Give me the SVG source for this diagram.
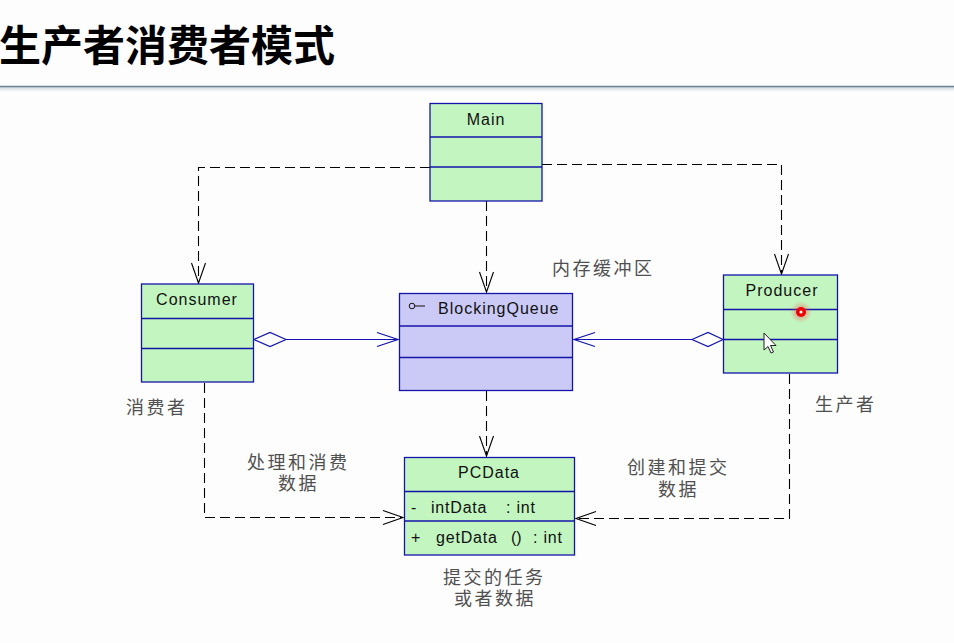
<svg xmlns="http://www.w3.org/2000/svg" width="954" height="643" viewBox="0 0 954 643">
<defs>
<style>
.box{stroke:#1414a8;stroke-width:1.3}
.g{fill:#c2f5c0}
.p{fill:#cbcaf6}
.div{stroke:#1414a8;stroke-width:1.3}
.nm{font-family:"Liberation Sans",Arial,sans-serif;font-size:16px;letter-spacing:1px;fill:#111}
.mb{font-family:"Liberation Sans",Arial,sans-serif;font-size:16px;fill:#111}
.lbl{font-family:"Liberation Sans","Noto Sans CJK SC",sans-serif;font-size:18px;letter-spacing:2.5px;fill:#505050}
.dash{fill:none;stroke:#000;stroke-width:1.1;stroke-dasharray:10 5}
.solid{fill:none;stroke:#1414b0;stroke-width:1.2}
.ah{fill:none;stroke:#000;stroke-width:1.1}
.ahb{fill:none;stroke:#1414b0;stroke-width:1.2}
.dia{fill:#ffffff;stroke:#1414b0;stroke-width:1.2}
</style>
<radialGradient id="glow"><stop offset="0" stop-color="#ff4040" stop-opacity="0.6"/><stop offset="1" stop-color="#ff4040" stop-opacity="0"/></radialGradient>
<linearGradient id="sh" x1="0" y1="0" x2="0" y2="1"><stop offset="0" stop-color="#cfd6da"/><stop offset="1" stop-color="#ffffff"/></linearGradient>
</defs>
<rect width="954" height="643" fill="#fdfdfd"/>
<g id="title">
<text x="-1" y="61" font-family="'Noto Sans CJK SC',sans-serif" font-size="42" font-weight="bold" fill="#000">生产者消费者模式</text>
<rect x="0" y="87" width="954" height="5" fill="url(#sh)"/>
<line x1="0" y1="86.5" x2="954" y2="86.5" stroke="#6d8593" stroke-width="1.5"/>
</g>
<g id="connectors">
<polyline class="dash" points="430,167.5 198.5,167.5 198.5,283"/>
<polyline class="ah" points="191.5,263 198.5,283 205.5,263"/>
<polyline class="dash" points="542,164.5 781.5,164.5 781.5,274"/>
<polyline class="ah" points="774.5,254 781.5,274 788.5,254"/>
<polyline class="dash" points="486.5,201 486.5,292"/>
<polyline class="ah" points="479.5,272 486.5,292 493.5,272"/>
<polyline class="dash" points="486.5,391 486.5,456"/>
<polyline class="ah" points="479.5,436 486.5,456 493.5,436"/>
<polyline class="dash" points="204.5,383 204.5,517.5 403,517.5"/>
<polyline class="ah" points="383,510.5 403,517.5 383,524.5"/>
<polyline class="dash" points="789.5,374 789.5,518.5 576,518.5"/>
<polyline class="ah" points="596,511.5 576,518.5 596,525.5"/>
<line class="solid" x1="286" y1="339.5" x2="398" y2="339.5"/>
<polygon class="dia" points="254,339.5 270,332.5 286,339.5 270,346.5"/>
<polyline class="ahb" points="377,332.5 398,339.5 377,346.5"/>
<line class="solid" x1="574" y1="339.5" x2="692" y2="339.5"/>
<polygon class="dia" points="692,339.5 708,332.5 723,339.5 708,346.5"/>
<polyline class="ahb" points="595,332.5 574,339.5 595,346.5"/>
</g>
<g id="Main">
<rect class="box g" x="430" y="103.5" width="112" height="97.5"/>
<line class="div" x1="430" y1="137" x2="542" y2="137"/>
<line class="div" x1="430" y1="167" x2="542" y2="167"/>
<text class="nm" x="486" y="125" text-anchor="middle">Main</text>
</g>
<g id="Consumer">
<rect class="box g" x="141.5" y="284" width="112" height="98"/>
<line class="div" x1="141.5" y1="318.5" x2="253.5" y2="318.5"/>
<line class="div" x1="141.5" y1="348.5" x2="253.5" y2="348.5"/>
<text class="nm" x="197" y="305" text-anchor="middle">Consumer</text>
</g>
<g id="BlockingQueue">
<rect class="box p" x="399.5" y="293.5" width="173" height="97"/>
<line class="div" x1="399.5" y1="326" x2="572.5" y2="326"/>
<line class="div" x1="399.5" y1="357.5" x2="572.5" y2="357.5"/>
<circle cx="412" cy="306" r="2.8" fill="none" stroke="#111" stroke-width="1"/>
<line x1="415" y1="306" x2="425" y2="306" stroke="#111" stroke-width="1"/>
<text class="nm" x="438" y="314" letter-spacing="1.3">BlockingQueue</text>
</g>
<g id="Producer">
<rect class="box g" x="723.5" y="275" width="114" height="98"/>
<line class="div" x1="723.5" y1="309.5" x2="837.5" y2="309.5"/>
<line class="div" x1="723.5" y1="339.5" x2="837.5" y2="339.5"/>
<text class="nm" x="782" y="296" text-anchor="middle">Producer</text>
</g>
<g id="PCData">
<rect class="box g" x="404.5" y="457.5" width="170" height="97.5"/>
<line class="div" x1="404.5" y1="491.5" x2="574.5" y2="491.5"/>
<line class="div" x1="404.5" y1="521" x2="574.5" y2="521"/>
<text class="nm" x="489" y="478" text-anchor="middle">PCData</text>
<text class="mb" x="411" y="513">-</text>
<text class="mb" x="431" y="513" letter-spacing="0.8">intData</text>
<text class="mb" x="506" y="513" letter-spacing="0.8">: int</text>
<text class="mb" x="411" y="543">+</text>
<text class="mb" x="436" y="543" letter-spacing="0.8">getData</text>
<text class="mb" x="511" y="543">()</text>
<text class="mb" x="533" y="543" letter-spacing="0.8">: int</text>
</g>
<g id="labels">
<text class="lbl" x="552" y="275">内存缓冲区</text>
<text class="lbl" x="126" y="414">消费者</text>
<text class="lbl" x="815" y="411">生产者</text>
<text class="lbl"><tspan x="247" y="469">处理和消费</tspan><tspan x="278" y="490">数据</tspan></text>
<text class="lbl"><tspan x="627" y="474">创建和提交</tspan><tspan x="658" y="496">数据</tspan></text>
<text class="lbl"><tspan x="443" y="584">提交的任务</tspan><tspan x="454" y="605">或者数据</tspan></text>
</g>
<g id="pointer">
<circle cx="801" cy="312" r="11" fill="url(#glow)"/>
<circle cx="801" cy="312" r="5" fill="#ee0000"/>
<circle cx="801" cy="312" r="1.6" fill="#ffffff"/>
<polygon points="764,333 764,350 768,346.5 771,353 773.5,352 770.5,345.5 776,345.5" fill="#ffffff" stroke="#222" stroke-width="1"/>
</g>
</svg>
